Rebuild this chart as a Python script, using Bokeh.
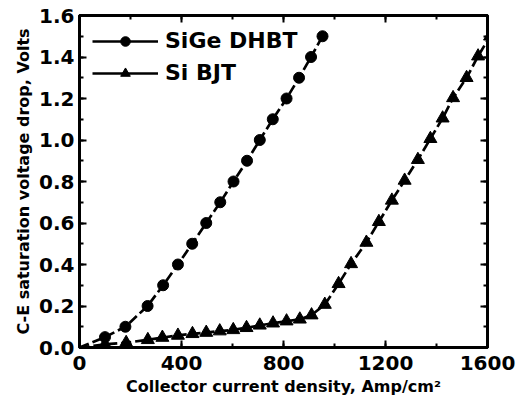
from bokeh.plotting import figure
from bokeh.models import (Range1d, LinearAxis, SingleIntervalTicker, PrintfTickFormatter,
                          CustomJSTickFormatter, Legend, LegendItem)
from bokeh.embed import file_html
from bokeh.resources import INLINE

# ---- data ----
sige_x = [0, 100, 180, 267, 328, 386, 442, 497, 552, 604, 657, 707, 758, 812, 861, 908, 953]
sige_y = [0.0, 0.05, 0.10, 0.20, 0.30, 0.40, 0.50, 0.60, 0.70, 0.80, 0.90, 1.00, 1.10, 1.20, 1.30, 1.40, 1.50]

si_x = [0, 100, 183, 268, 325, 386, 443, 497, 550, 603, 655, 707, 759, 812, 864, 910,
        962, 1016, 1065, 1125, 1174, 1225, 1275, 1327, 1376, 1424, 1465, 1518, 1563, 1610]
si_y = [0.0, 0.015, 0.023, 0.037, 0.048, 0.058, 0.066, 0.072, 0.079, 0.085, 0.095, 0.107,
        0.117, 0.127, 0.136, 0.156, 0.207, 0.307, 0.403, 0.506, 0.606, 0.709, 0.805, 0.905,
        1.006, 1.105, 1.203, 1.30, 1.404, 1.50]

series_names = ["SiGe DHBT", "Si BJT"]
x_label = "Collector current density, Amp/cm\u00b2"
y_label = "C-E saturation voltage drop, Volts"

FONT = "DejaVu Sans"

p = figure(frame_width=408, frame_height=332,
           min_border_left=79, min_border_right=36, min_border_top=15, min_border_bottom=62,
           x_range=Range1d(0, 1600), y_range=Range1d(0, 1.6),
           output_backend="svg", toolbar_location=None)
p.xgrid.visible = False
p.ygrid.visible = False
p.outline_line_color = "black"
p.outline_line_width = 3
p.background_fill_color = "white"
p.border_fill_color = "white"

def style_axis(ax, labels=True):
    ax.axis_line_width = 3
    ax.axis_line_color = "black"
    ax.major_tick_in = 7
    ax.major_tick_out = 0
    ax.minor_tick_in = 4
    ax.minor_tick_out = 0
    ax.major_tick_line_width = 2
    ax.minor_tick_line_width = 2
    ax.major_tick_line_color = "black"
    ax.minor_tick_line_color = "black"
    if labels:
        ax.major_label_text_font = FONT
        ax.major_label_text_font_style = "bold"
        ax.major_label_text_font_size = "20px"
        ax.major_label_text_color = "black"
        ax.axis_label_text_font = FONT
        ax.axis_label_text_font_style = "bold"
        ax.axis_label_text_font_size = "16px"
        ax.axis_label_text_color = "black"
    else:
        ax.formatter = CustomJSTickFormatter(code="return ''")
        ax.major_label_standoff = 0

xt = SingleIntervalTicker(interval=400, num_minor_ticks=2)
yt = SingleIntervalTicker(interval=0.2, num_minor_ticks=2)

p.xaxis.ticker = xt
p.yaxis.ticker = yt
p.yaxis.formatter = PrintfTickFormatter(format="%.1f")
p.xaxis.axis_label = x_label
p.yaxis.axis_label = y_label
style_axis(p.xaxis[0])
style_axis(p.yaxis[0])
p.xaxis.major_label_standoff = 8
p.yaxis.major_label_standoff = 5
p.xaxis.axis_label_standoff = 4
p.yaxis.axis_label_standoff = 3

top = LinearAxis(ticker=SingleIntervalTicker(interval=400, num_minor_ticks=2))
right = LinearAxis(ticker=SingleIntervalTicker(interval=0.2, num_minor_ticks=2))
style_axis(top, labels=False)
style_axis(right, labels=False)
p.add_layout(top, "above")
p.add_layout(right, "right")

# series
l1 = p.line(sige_x, sige_y, line_color="black", line_width=2.7, line_dash="10 4")
m1 = p.scatter(sige_x[1:], sige_y[1:], marker="circle", size=11, color="black")
l2 = p.line(si_x, si_y, line_color="black", line_width=2.7, line_dash="10 4")
m2 = p.scatter(si_x[1:], si_y[1:], marker="triangle", size=13, color="black")

# solid-line stand-ins for the legend glyphs (single point -> draws nothing in the plot)
s1 = p.line(sige_x[:1], sige_y[:1], line_color="black", line_width=2.7)
s2 = p.line(si_x[:1], si_y[:1], line_color="black", line_width=2.7)

legend = Legend(items=[LegendItem(label=series_names[0], renderers=[s1, m1]),
                       LegendItem(label=series_names[1], renderers=[s2, m2])],
                location="top_left")
legend.margin = 5
legend.padding = 8
legend.glyph_width = 66
legend.glyph_height = 24
legend.label_height = 24
legend.spacing = 7
legend.label_standoff = 7
legend.label_text_font = FONT
legend.label_text_font_style = "bold"
legend.label_text_font_size = "22px"
legend.label_text_color = "black"
legend.border_line_alpha = 0
legend.background_fill_alpha = 0
p.add_layout(legend, "center")

open("out.html", "w").write(file_html(p, INLINE))
